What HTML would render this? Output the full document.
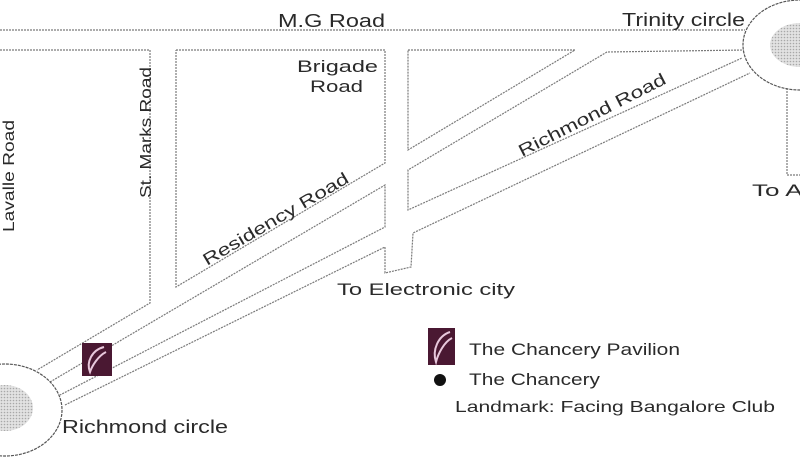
<!DOCTYPE html>
<html><head><meta charset="utf-8"><style>
html,body{margin:0;padding:0;background:#fff;}
svg{display:block;}
text{font-family:"Liberation Sans",sans-serif;fill:#2a2a2a;}
</style></head><body>
<svg width="800" height="458" viewBox="0 0 800 458" xmlns="http://www.w3.org/2000/svg">
<defs>
<pattern id="dots" width="3" height="3" patternUnits="userSpaceOnUse">
<rect width="3" height="3" fill="#e2e2e2"/><circle cx="1.5" cy="1.5" r="0.8" fill="#a8a8a8"/>
</pattern>
</defs>
<g fill="none" stroke="#7a7a7a" stroke-width="1.2" stroke-dasharray="2 1">
<line x1="0" y1="30" x2="745" y2="30"/>
<polyline points="0,50 150,50 150,303 37,370"/>
<polyline points="176,50 385,50 385,163 176,287 176,50"/>
<polyline points="408,50 575,50 408,150 408,50"/>
<polyline points="50,382 385,185 385,227 60,395"/>
<polyline points="745,50 607,52 408,170 408,210 742,58"/>
<polyline points="65,405 385,247 385,273 411,267 413,233 750,73"/>
<polyline points="787,88 787,175 800,175"/>
</g>
<ellipse cx="800" cy="45" rx="57" ry="45" fill="#fff" stroke="#555" stroke-width="1.2" stroke-dasharray="3 1"/>
<ellipse cx="800" cy="45" rx="30" ry="22" fill="url(#dots)"/>
<ellipse cx="5" cy="410" rx="57" ry="46" fill="#fff" stroke="#555" stroke-width="1.2" stroke-dasharray="3 1"/>
<ellipse cx="5" cy="408" rx="28" ry="23" fill="url(#dots)"/>
<g>
<rect x="82" y="343" width="30" height="33" fill="#4a1832"/>
<path d="M104,347 C92,350 86,362 90,372 C92,366 98,356 106,352" fill="none" stroke="#e8c8dc" stroke-width="2"/>
</g>
<g>
<rect x="428" y="328" width="27" height="37" fill="#4a1832"/>
<path d="M450,332 C438,336 432,350 436,362 C438,354 444,342 452,338" fill="none" stroke="#e8c8dc" stroke-width="2"/>
</g>
<circle cx="440" cy="380" r="6" fill="#111"/>
<g lengthAdjust="spacingAndGlyphs">
<text x="278" y="27" font-size="18" textLength="107" lengthAdjust="spacingAndGlyphs">M.G Road</text>
<text x="622" y="26" font-size="18" textLength="123" lengthAdjust="spacingAndGlyphs">Trinity circle</text>
<text x="297" y="72" font-size="17" textLength="81" lengthAdjust="spacingAndGlyphs">Brigade</text>
<text x="310" y="92" font-size="17" textLength="53" lengthAdjust="spacingAndGlyphs">Road</text>
<text transform="translate(14,232) rotate(-90)" font-size="16" textLength="112" lengthAdjust="spacingAndGlyphs">Lavalle Road</text>
<text transform="translate(151,198) rotate(-90)" font-size="16" textLength="131" lengthAdjust="spacingAndGlyphs">St. Marks Road</text>
<text transform="translate(207,266) rotate(-30.5)" font-size="17" textLength="166" lengthAdjust="spacingAndGlyphs">Residency Road</text>
<text transform="translate(522,157) rotate(-27)" font-size="17" textLength="163" lengthAdjust="spacingAndGlyphs">Richmond Road</text>
<text x="337" y="295" font-size="17" textLength="178" lengthAdjust="spacingAndGlyphs">To Electronic city</text>
<text x="752" y="196" font-size="17" textLength="110" lengthAdjust="spacingAndGlyphs">To Airport</text>
<text x="469" y="355" font-size="17" textLength="211" lengthAdjust="spacingAndGlyphs">The Chancery Pavilion</text>
<text x="469" y="385" font-size="17" textLength="131" lengthAdjust="spacingAndGlyphs">The Chancery</text>
<text x="455" y="412" font-size="16" textLength="320" lengthAdjust="spacingAndGlyphs">Landmark: Facing Bangalore Club</text>
<text x="62" y="433" font-size="18" textLength="166" lengthAdjust="spacingAndGlyphs">Richmond circle</text>
</g>
</svg>
</body></html>
